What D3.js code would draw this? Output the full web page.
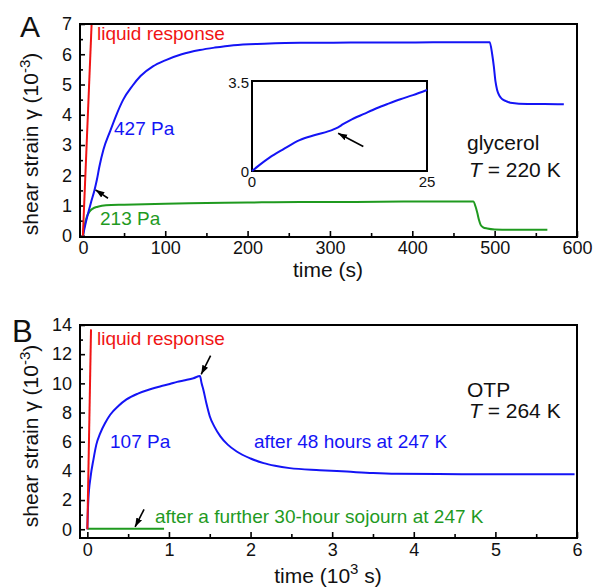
<!DOCTYPE html>
<html>
<head>
<meta charset="utf-8">
<script src="https://cdn.jsdelivr.net/npm/d3@7"></script>
<style>
  body { margin: 0; background: #fff; }
  svg { font-family: "Liberation Sans", Arial, sans-serif; }
</style>
</head>
<body>
<div id="chart"></div>
<script>
// panel A: glycerol at 220 K, time in s, strain in 1e-3
const glycTime427 = [0, 2, 5, 10, 14, 17, 20, 25, 33, 40, 49, 60, 70, 85, 100, 120, 142, 160, 183, 220, 264, 300, 350, 400, 450, 494, 497, 499, 501, 503, 506, 509, 514, 519, 540, 560, 584];
const glycStrain427 = [0, 0.25, 0.6, 1.12, 1.5, 1.85, 2.28, 2.85, 3.45, 3.95, 4.5, 4.95, 5.28, 5.6, 5.8, 6.0, 6.14, 6.22, 6.3, 6.35, 6.38, 6.38, 6.39, 6.39, 6.4, 6.4, 6.0, 5.6, 5.1, 4.82, 4.62, 4.52, 4.45, 4.4, 4.36, 4.36, 4.35];
const glycTime213 = [0, 1, 3, 5, 8, 12, 18, 28, 50, 100, 150, 200, 264, 320, 400, 450, 474, 477, 479, 481, 483, 486, 491, 500, 530, 564];
const glycStrain213 = [0, 0.2, 0.45, 0.64, 0.8, 0.9, 0.96, 1.01, 1.03, 1.06, 1.08, 1.1, 1.12, 1.12, 1.13, 1.13, 1.13, 0.95, 0.75, 0.52, 0.36, 0.28, 0.24, 0.21, 0.2, 0.2];
const glycLiquidTime = [0, 10.6];
const glycLiquidStrain = [0, 7];

// inset of panel A: first 25 s of the 427 Pa run
const insetTime = [0, 1, 2.5, 4.5, 6.8, 9, 11.5, 12.3, 13, 14, 16, 17.8, 19.5, 21.2, 23, 25];
const insetStrain = [0, 0.22, 0.52, 0.85, 1.2, 1.4, 1.6, 1.7, 1.82, 1.97, 2.22, 2.44, 2.62, 2.79, 2.95, 3.15];

// panel B: OTP at 264 K, time in 1e3 s
const otpTime = [0, 0.012, 0.04, 0.074, 0.11, 0.156, 0.22, 0.28, 0.38, 0.48, 0.62, 0.77, 0.9, 1.01, 1.1, 1.18, 1.3, 1.38, 1.4, 1.42, 1.46, 1.5, 1.56, 1.63, 1.72, 1.83, 2.0, 2.16, 2.3, 2.48, 2.85, 3.18, 3.5, 3.79, 4.3, 4.81, 5.4, 5.97];
const otpStrain = [0, 2.0, 3.6, 4.76, 5.8, 6.55, 7.3, 7.85, 8.45, 8.9, 9.3, 9.6, 9.8, 9.95, 10.1, 10.2, 10.35, 10.5, 10.0, 9.6, 8.6, 7.75, 7.0, 6.37, 5.8, 5.33, 4.85, 4.53, 4.35, 4.19, 4.05, 3.95, 3.85, 3.8, 3.78, 3.77, 3.77, 3.77];
const otpAgedTime = [0, 0.3, 0.6, 0.94];
const otpAgedStrain = [0.03, 0.04, 0.04, 0.04];
const otpLiquidTime = [0, 0.045];
const otpLiquidStrain = [0, 13.7];

// tick values
const xTicksA = [0, 100, 200, 300, 400, 500, 600];
const xMinorA = [50, 150, 250, 350, 450, 550];
const yTicksA = [0, 1, 2, 3, 4, 5, 6, 7];
const yMinorA = [0.5, 1.5, 2.5, 3.5, 4.5, 5.5, 6.5];
const xTicksB = [0, 1, 2, 3, 4, 5, 6];
const xMinorB = [0.5, 1.5, 2.5, 3.5, 4.5, 5.5];
const yTicksB = [0, 2, 4, 6, 8, 10, 12, 14];
const yMinorB = [1, 3, 5, 7, 9, 11, 13];

// arrows as [x1, y1, x2, y2] in data units, head at x2, y2
const arrowA = [30.5, 1.24, 15.3, 1.52];
const arrowInset = [15.9, 0.95, 12.3, 1.47];
const arrowsB = [[1.51, 11.9, 1.395, 10.62], [0.695, 1.36, 0.585, 0.16]];

const red = "#f01414";
const blue = "#1414f5";
const green = "#1f9a1f";

let svg = d3.select("#chart").append("svg")
  .attr("width", 593)
  .attr("height", 587);

svg.append("defs").append("marker")
  .attr("id", "head")
  .attr("viewBox", "0 0 10 10")
  .attr("refX", 10)
  .attr("refY", 5)
  .attr("markerWidth", 9)
  .attr("markerHeight", 9)
  .attr("markerUnits", "userSpaceOnUse")
  .attr("orient", "auto")
  .append("path")
  .attr("d", "M0,1.5 L10,5 L0,8.5 z")
  .attr("fill", "#000");

const zip = (xs, ys) => xs.map((d, i) => [d, ys[i]]);

function makePanel(id, x, y, xTicks, xMinor, yTicks, yMinor, labelPad) {
  let [left, right] = x.range();
  let [bottom, top] = y.range();
  let g = svg.append("g").attr("class", "panel");

  svg.select("defs").append("clipPath")
    .attr("id", "clip" + id)
    .append("rect")
    .attr("x", left).attr("y", top)
    .attr("width", right - left).attr("height", bottom - top);

  g.append("g")
    .attr("transform", `translate(0, ${bottom})`)
    .call(d3.axisBottom(x).tickValues(xMinor).tickSize(-4).tickFormat(""));
  g.append("g")
    .attr("transform", `translate(0, ${bottom})`)
    .call(d3.axisBottom(x).tickValues(xTicks).tickSize(-6).tickPadding(labelPad).tickFormat(d3.format("d")));
  g.append("g")
    .attr("transform", `translate(${left}, 0)`)
    .call(d3.axisLeft(y).tickValues(yMinor).tickSize(-3).tickFormat(""));
  g.append("g")
    .attr("transform", `translate(${left}, 0)`)
    .call(d3.axisLeft(y).tickValues(yTicks).tickSize(-5).tickPadding(8).tickFormat(d3.format("d")));

  g.selectAll(".domain").remove();
  g.selectAll(".tick line").attr("stroke", "#000").attr("stroke-width", 1.6);
  g.selectAll(".tick text").attr("font-size", 18).attr("font-family", null).attr("fill", "#111");
  g.selectAll("g").attr("font-family", null);

  let plot = g.append("g").attr("clip-path", `url(#clip${id})`);

  g.append("rect")
    .attr("x", left).attr("y", top)
    .attr("width", right - left).attr("height", bottom - top)
    .attr("fill", "none")
    .attr("stroke", "#000")
    .attr("stroke-width", 2);

  return plot;
}

function addLine(parent, x, y, pts, color, curve) {
  let line = d3.line()
    .x(d => x(d[0]))
    .y(d => y(d[1]))
    .curve(curve || d3.curveMonotoneX);
  parent.append("path")
    .attr("d", line(pts))
    .attr("fill", "none")
    .attr("stroke", color)
    .attr("stroke-width", 2)
    .attr("stroke-linejoin", "round");
}

function addArrow(x, y, a) {
  svg.append("line")
    .attr("x1", x(a[0])).attr("y1", y(a[1]))
    .attr("x2", x(a[2])).attr("y2", y(a[3]))
    .attr("stroke", "#000")
    .attr("stroke-width", 1.6)
    .attr("marker-end", "url(#head)");
}

function addText(x, y, str, color, size, anchor) {
  return svg.append("text")
    .attr("x", x).attr("y", y)
    .attr("fill", color)
    .attr("font-size", size)
    .attr("text-anchor", anchor || "start")
    .text(str);
}

function tempLabel(x, y, temp) {
  let t = svg.append("text")
    .attr("x", x).attr("y", y)
    .attr("font-size", 21)
    .attr("fill", "#111");
  t.append("tspan").attr("font-style", "italic").text("T");
  t.append("tspan").text(" = " + temp);
}

function yTitle(cx, cy) {
  let t = svg.append("text")
    .attr("transform", `translate(${cx}, ${cy}) rotate(-90)`)
    .attr("text-anchor", "middle")
    .attr("font-size", 21)
    .attr("fill", "#111");
  t.append("tspan").text("shear strain γ (10");
  t.append("tspan").attr("dy", -8).attr("font-size", 15).text("-3");
  t.append("tspan").attr("dy", 8).text(")");
}

// ---- panel A ----
let xA = d3.scaleLinear().domain([-3.5, 600]).range([80, 577]);
let yA = d3.scaleLinear().domain([-0.04, 7]).range([237, 24]);
let plotA = makePanel("A", xA, yA, xTicksA, xMinorA, yTicksA, yMinorA, 4);

addLine(plotA, xA, yA, zip(glycTime213, glycStrain213), green);
addLine(plotA, xA, yA, zip(glycTime427, glycStrain427), blue);
addLine(plotA, xA, yA, zip(glycLiquidTime, glycLiquidStrain), red, d3.curveLinear);
addArrow(xA, yA, arrowA);

// inset
let xI = d3.scaleLinear().domain([0, 25]).range([252, 427]);
let yI = d3.scaleLinear().domain([0, 3.5]).range([171, 81]);
svg.append("rect")
  .attr("x", 252).attr("y", 81)
  .attr("width", 175).attr("height", 90)
  .attr("fill", "#fff")
  .attr("stroke", "#000")
  .attr("stroke-width", 2);
addLine(svg, xI, yI, zip(insetTime, insetStrain), blue);
addArrow(xI, yI, arrowInset);
addText(xI(0) - 3, yI(3.5) + 7, "3.5", "#111", 15, "end");
addText(xI(0) - 3, yI(0) + 6, "0", "#111", 15, "end");
addText(xI(0), yI(0) + 16, "0", "#111", 15, "middle");
addText(xI(25), yI(0) + 16, "25", "#111", 15, "middle");

addText(20, 37, "A", "#111", 30);
addText(97, 39.5, "liquid response", red, 19);
addText(114, 135, "427 Pa", blue, 19);
addText(100, 225, "213 Pa", green, 19);
addText(467, 150, "glycerol", "#111", 21);
tempLabel(469, 177, "220 K");
yTitle(38, 144);
addText(328, 277, "time (s)", "#111", 21, "middle");

// ---- panel B ----
let xB = d3.scaleLinear().domain([-0.09, 6]).range([80, 577]);
let yB = d3.scaleLinear().domain([-0.6, 14]).range([538, 325]);
let plotB = makePanel("B", xB, yB, xTicksB, xMinorB, yTicksB, yMinorB, 5);

addLine(plotB, xB, yB, zip(otpAgedTime, otpAgedStrain), green);
addLine(plotB, xB, yB, zip(otpTime, otpStrain), blue);
addLine(plotB, xB, yB, zip(otpLiquidTime, otpLiquidStrain), red, d3.curveLinear);
arrowsB.forEach(a => addArrow(xB, yB, a));

addText(12, 342, "B", "#111", 31);
addText(97, 345, "liquid response", red, 19);
addText(110, 448, "107 Pa", blue, 19);
addText(254, 448, "after 48 hours at 247 K", blue, 19);
addText(155, 522.5, "after a further 30-hour sojourn at 247 K", green, 19);
addText(467, 397, "OTP", "#111", 21);
tempLabel(469, 418, "264 K");
yTitle(38, 436);

let tB = svg.append("text")
  .attr("x", 328).attr("y", 583)
  .attr("text-anchor", "middle")
  .attr("font-size", 21)
  .attr("fill", "#111");
tB.append("tspan").text("time (10");
tB.append("tspan").attr("dy", -9).attr("font-size", 15).text("3");
tB.append("tspan").attr("dy", 9).text(" s)");
</script>
</body>
</html>
